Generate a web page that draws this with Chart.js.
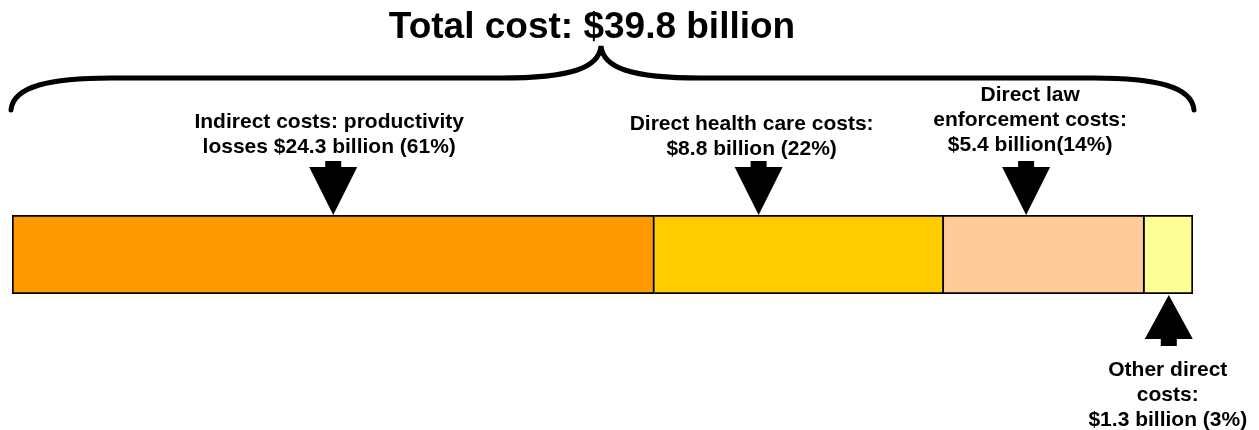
<!DOCTYPE html>
<html>
<head>
<meta charset="utf-8">
<script src="https://cdn.jsdelivr.net/npm/chart.js@4.4.1/dist/chart.umd.min.js"></script>
<style>
  body { margin: 0; background: #fff; }
  #wrap { width: 1259px; height: 430px; position: relative; }
</style>
</head>
<body>
<div id="wrap"><canvas id="cost-chart"></canvas></div>
<script>
// Cost breakdown (billions of dollars) and shares as printed on the chart
const categories = ['Indirect costs', 'Direct health care costs', 'Direct law enforcement costs', 'Other direct costs'];
const costBillions = [24.3, 8.8, 5.4, 1.3];
const costShares = [61, 22, 14, 3];
// Segment lengths as drawn in the picture (% of the bar) - the original isn't to scale
const barLengths = [54.4, 24.5, 17.0, 4.1];
const segmentColors = ['#FF9900', '#FFCC00', '#FFCC99', '#FFFF99'];
const titleText = 'Total cost: $39.8 billion';
const labelLines = [
    ['Indirect costs: productivity', 'losses $24.3 billion (61%)'],
    ['Direct health care costs:', '$8.8 billion (22%)'],
    ['Direct law', 'enforcement costs:', '$5.4 billion(14%)'],
    ['Other direct', 'costs:', '$1.3 billion (3%)']
];

const FONT = '"Liberation Sans", Arial, sans-serif';

// where each arrow sits inside its segment, and where its label goes
const callouts = [
    { at: 0.5,  dir: 'down', dx: -4, baseline: 128 },
    { at: 0.36, dir: 'down', dx: -7, baseline: 130 },
    { at: 0.41, dir: 'down', dx: 4,  baseline: 101 },
    { at: 0.5,  dir: 'up',   dx: -1, baseline: 376 }
];

const annotationsPlugin = {
    id: 'costAnnotations',
    afterDraw(chart) {
        const ctx = chart.ctx;
        const xs = chart.scales.x;
        const area = chart.chartArea;

        ctx.save();
        ctx.fillStyle = '#000';
        ctx.strokeStyle = '#000';

        // title
        ctx.font = 'bold 37px ' + FONT;
        ctx.textAlign = 'center';
        ctx.textBaseline = 'alphabetic';
        ctx.fillText(titleText, 592, 38);

        // curly brace over the whole bar
        const L = area.left - 1, R = area.right + 1, peak = 601;
        const yEnd = 110, yFlat = 78, yTop = 46;
        ctx.lineWidth = 5;
        ctx.lineCap = 'round';
        ctx.lineJoin = 'miter';
        ctx.beginPath();
        ctx.moveTo(L, yEnd);
        ctx.bezierCurveTo(L + 2, 86, L + 40, yFlat, L + 100, yFlat);
        ctx.lineTo(peak - 100, yFlat);
        ctx.bezierCurveTo(peak - 30, yFlat, peak - 2, 68, peak, yTop);
        ctx.bezierCurveTo(peak + 2, 68, peak + 30, yFlat, peak + 100, yFlat);
        ctx.lineTo(R - 100, yFlat);
        ctx.bezierCurveTo(R - 40, yFlat, R - 2, 86, R, yEnd);
        ctx.stroke();

        // arrows and labels
        let start = 0;
        ctx.font = 'bold 21px ' + FONT;
        barLengths.forEach((len, i) => {
            const c = callouts[i];
            const x = xs.getPixelForValue(start + len * c.at);
            start += len;

            ctx.beginPath();
            if (c.dir === 'down') {
                const tip = area.top;
                ctx.moveTo(x, tip);
                ctx.lineTo(x - 24, tip - 48);
                ctx.lineTo(x - 8, tip - 48);
                ctx.lineTo(x - 8, tip - 54);
                ctx.lineTo(x + 8, tip - 54);
                ctx.lineTo(x + 8, tip - 48);
                ctx.lineTo(x + 24, tip - 48);
            } else {
                const tip = area.bottom + 1;
                ctx.moveTo(x, tip);
                ctx.lineTo(x - 24, tip + 44);
                ctx.lineTo(x - 8, tip + 44);
                ctx.lineTo(x - 8, tip + 51);
                ctx.lineTo(x + 8, tip + 51);
                ctx.lineTo(x + 8, tip + 44);
                ctx.lineTo(x + 24, tip + 44);
            }
            ctx.closePath();
            ctx.fill();

            labelLines[i].forEach((line, k) => {
                ctx.fillText(line, x + c.dx, c.baseline + k * 25);
            });
        });
        ctx.restore();
    }
};

const ctx = document.getElementById('cost-chart').getContext('2d');

new Chart(ctx, {
    type: 'bar',
    data: {
        labels: ['Total'],
        datasets: categories.map((name, i) => ({
            label: name + ': $' + costBillions[i] + ' billion (' + costShares[i] + '%)',
            data: [barLengths[i]],
            backgroundColor: segmentColors[i],
            borderColor: '#000',
            borderWidth: 2,
            borderSkipped: i === 0 ? false : 'start',
            barPercentage: 1,
            categoryPercentage: 1
        }))
    },
    options: {
        indexAxis: 'y',
        responsive: true,
        maintainAspectRatio: false,
        animation: false,
        layout: {
            padding: { left: 12, right: 66, top: 215, bottom: 136 }
        },
        plugins: {
            legend: { display: false },
            tooltip: { enabled: false },
            title: { display: false }
        },
        scales: {
            x: { stacked: true, display: false, min: 0, max: 100 },
            y: { stacked: true, display: false }
        }
    },
    plugins: [annotationsPlugin]
});
</script>
</body>
</html>
